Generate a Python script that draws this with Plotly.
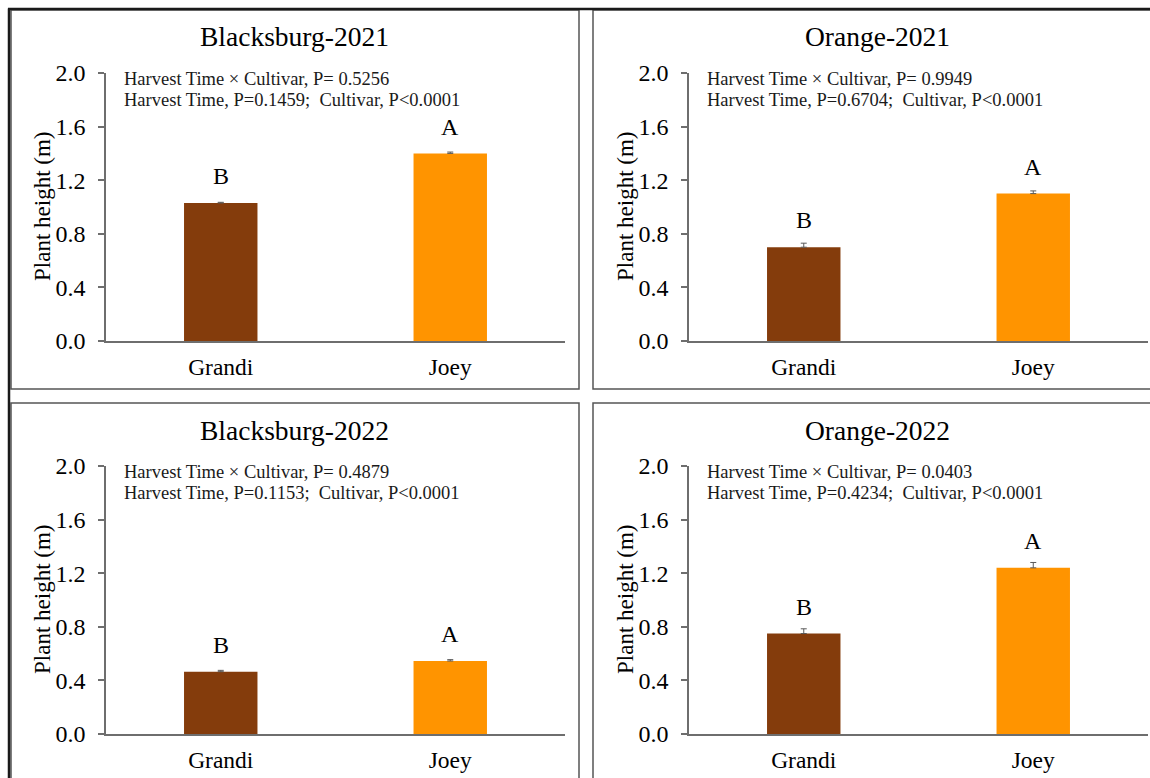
import plotly.graph_objects as go

W, H = 1150, 778

# ---- data -------------------------------------------------------------
cultivars = ["Grandi", "Joey"]
bar_colors = ["#843C0C", "#FF9400"]
sites = ["Blacksburg-2021", "Orange-2021", "Blacksburg-2022", "Orange-2022"]
height_mean = [[1.03, 1.40], [0.70, 1.10], [0.465, 0.545], [0.75, 1.24]]
height_se = [[0.005, 0.01], [0.03, 0.02], [0.01, 0.01], [0.035, 0.04]]
group_letters = [["B", "A"], ["B", "A"], ["B", "A"], ["B", "A"]]
interaction_p = ["0.5256", "0.9949", "0.4879", "0.0403"]
harvest_p = ["0.1459", "0.6704", "0.1153", "0.4234"]
cultivar_p = ["&lt;0.0001", "&lt;0.0001", "&lt;0.0001", "&lt;0.0001"]
y_ticks = [0.0, 0.4, 0.8, 1.2, 1.6, 2.0]

# ---- layout helpers (pixel -> paper) -----------------------------------
FONT = "Liberation Serif, Times New Roman, serif"
px = lambda x: x / W
py = lambda y: 1 - y / H

# panel offsets in pixels (2 x 2 grid)
offsets = [(0, 0), (583, 0), (0, 393), (583, 393)]

fig = go.Figure()
layout = dict(
    width=W, height=H,
    margin=dict(l=0, r=0, t=0, b=0, pad=0, autoexpand=False),
    paper_bgcolor="white", plot_bgcolor="white",
    showlegend=False,
    font=dict(family=FONT, color="black"),
    shapes=[], annotations=[],
)

for i, site in enumerate(sites):
    dx, dy = offsets[i]
    n = "" if i == 0 else str(i + 1)
    xa, ya = "x" + n, "y" + n

    fig.add_trace(go.Bar(
        x=cultivars, y=height_mean[i],
        marker=dict(color=bar_colors, line=dict(width=0)),
        width=0.32,
        error_y=dict(type="data", array=height_se[i], symmetric=False,
                     arrayminus=[0, 0], color="#5a5a5a", thickness=1, width=3),
        xaxis=xa, yaxis=ya, hoverinfo="skip",
    ))

    layout["xaxis" + n] = dict(
        domain=[px(106 + dx), px(565 + dx)],
        anchor=ya, type="category", range=[-0.5, 1.5],
        showline=True, linecolor="#6e6e6e", linewidth=1.5,
        ticks="", showgrid=False, zeroline=False, automargin=False,
        tickfont=dict(family=FONT, size=23.5, color="black"),
        ticklabelstandoff=4,
    )
    layout["yaxis" + n] = dict(
        domain=[py(341 + dy), py(73 + dy)],
        anchor=xa, range=[0, 2.0], automargin=False,
        tickvals=y_ticks, tickformat=".1f",
        showline=True, linecolor="#6e6e6e", linewidth=1.5,
        ticks="outside", ticklen=6, tickcolor="#6e6e6e", tickwidth=1.5,
        showgrid=False, zeroline=False,
        tickfont=dict(family=FONT, size=24, color="black"),
        ticklabelstandoff=8,
    )

    ann = layout["annotations"]
    # panel title
    ann.append(dict(text=site, x=px(294 + dx), y=py(37 + dy), xref="paper", yref="paper",
                    showarrow=False, xanchor="center", yanchor="middle",
                    font=dict(family=FONT, size=27.5, color="black")))
    # y-axis title
    ann.append(dict(text="Plant height (m)", x=px(42 + dx), y=py(207 + dy),
                    xref="paper", yref="paper", showarrow=False, textangle=-90,
                    xanchor="center", yanchor="middle",
                    font=dict(family=FONT, size=23, color="black")))
    # ANOVA statistics
    ann.append(dict(text=f"Harvest Time × Cultivar, P= {interaction_p[i]}",
                    x=px(122 + dx), y=py(79 + dy), xref="paper", yref="paper",
                    showarrow=False, xanchor="left", yanchor="middle",
                    font=dict(family=FONT, size=18.5, color="#1a1a1a")))
    ann.append(dict(text=f"Harvest Time, P={harvest_p[i]};\u00a0 Cultivar, P{cultivar_p[i]}",
                    x=px(122 + dx), y=py(100 + dy), xref="paper", yref="paper",
                    showarrow=False, xanchor="left", yanchor="middle",
                    font=dict(family=FONT, size=18.5, color="#1a1a1a")))
    # mean separation letters
    for c, v, letter in zip(cultivars, height_mean[i], group_letters[i]):
        ann.append(dict(text=letter, x=c, y=v + 0.2, xref=xa, yref=ya,
                        showarrow=False, xanchor="center", yanchor="middle",
                        font=dict(family=FONT, size=24, color="black")))

# panel borders
border = dict(color="#555555", width=1.5)
for (x0, y0, x1, y1) in [(11, 10, 579, 389), (593, 10, 1153, 389),
                         (11, 403, 579, 781), (593, 403, 1153, 781)]:
    layout["shapes"].append(dict(type="rect", xref="paper", yref="paper",
                                 x0=px(x0), x1=px(x1), y0=py(y1), y1=py(y0),
                                 line=border, layer="above"))
# outer frame
frame = dict(color="#1a1a1a", width=2.5)
layout["shapes"].append(dict(type="line", xref="paper", yref="paper",
                             x0=px(9), x1=px(9), y0=py(781), y1=py(8.5), line=frame))
layout["shapes"].append(dict(type="line", xref="paper", yref="paper",
                             x0=px(8), x1=px(1153), y0=py(9), y1=py(9), line=frame))

fig.update_layout(**layout)
fig.write_html("out.html")
